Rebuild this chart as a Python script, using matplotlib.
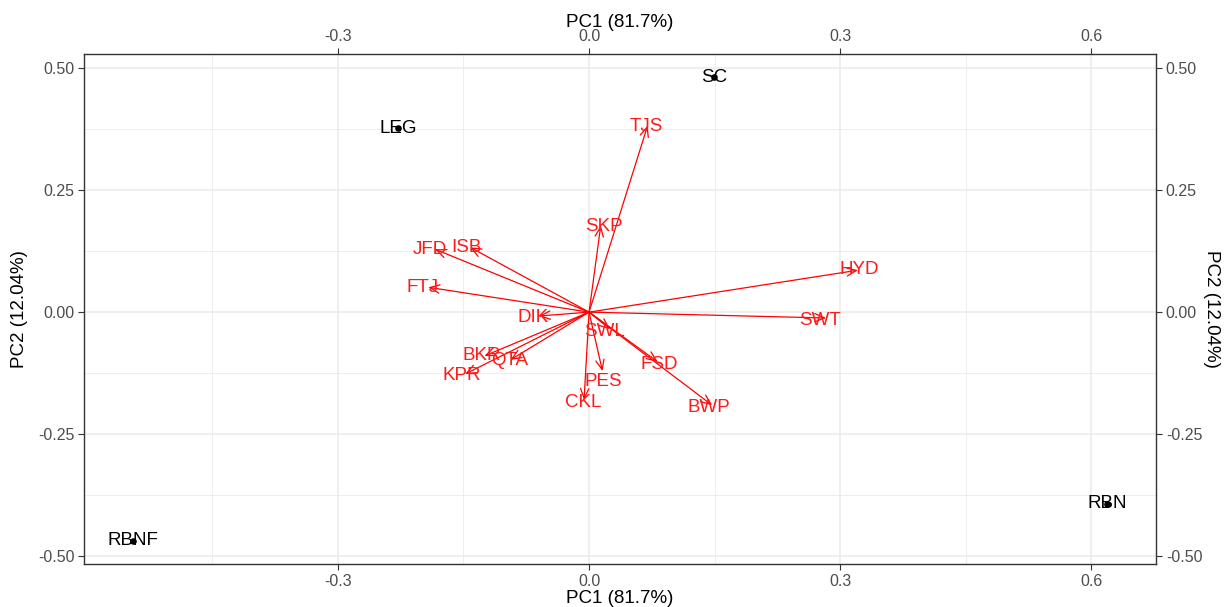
import matplotlib
matplotlib.use("Agg")
import matplotlib.pyplot as plt
from matplotlib.patches import FancyArrowPatch
import numpy as np

plt.rcParams['font.family'] = ['Liberation Sans', 'DejaVu Sans']

# sample scores (PC1, PC2)
samples = ['SC', 'LEG', 'RBNF', 'RBN']
pc1_scores = [0.149, -0.228, -0.545, 0.619]
pc2_scores = [0.482, 0.377, -0.469, -0.393]

# variable loadings (arrow tips)
variables = ['TJS', 'SKP', 'HYD', 'SWT', 'JFD', 'ISB', 'FTJ', 'DIK', 'SWL',
             'FSD', 'BWP', 'PES', 'CKL', 'BKR', 'QTA', 'KPR']
load_pc1 = [0.070, 0.014, 0.321, 0.283, -0.184, -0.142, -0.192, -0.060, 0.025,
            0.082, 0.147, 0.016, -0.006, -0.125, -0.094, -0.148]
load_pc2 = [0.383, 0.178, 0.086, -0.012, 0.129, 0.133, 0.051, -0.008, -0.035,
            -0.102, -0.191, -0.121, -0.180, -0.090, -0.098, -0.127]
# label positions for variables (slightly offset from tips as drawn)
lab_pc1 = [0.068, 0.018, 0.323, 0.276, -0.190, -0.147, -0.199, -0.067, 0.018,
           0.084, 0.143, 0.017, -0.007, -0.128, -0.095, -0.152]
lab_pc2 = [0.381, 0.175, 0.088, -0.018, 0.129, 0.133, 0.051, -0.010, -0.040,
           -0.108, -0.195, -0.142, -0.185, -0.090, -0.100, -0.129]

pc1_label = 'PC1 (81.7%)'
pc2_label = 'PC2 (12.04%)'
xticks = [-0.3, 0.0, 0.3, 0.6]
yticks = [-0.50, -0.25, 0.00, 0.25, 0.50]

fig = plt.figure(figsize=(12.26, 6.07), dpi=100)
ax = fig.add_axes([0.0685, 0.071, 0.8745, 0.840])

# limits with 5% expansion like ggplot
xr = max(pc1_scores) - min(pc1_scores)
yr = max(pc2_scores) - min(pc2_scores)
ax.set_xlim(min(pc1_scores) - 0.05 * xr, max(pc1_scores) + 0.05 * xr)
ax.set_ylim(min(pc2_scores) - 0.05 * yr, max(pc2_scores) + 0.05 * yr)

grid_col = '#EBEBEB'
ax.set_xticks(xticks)
ax.set_yticks(yticks)
ax.set_xticks([-0.45, -0.15, 0.15, 0.45], minor=True)
ax.set_yticks([-0.375, -0.125, 0.125, 0.375], minor=True)
ax.grid(True, which='major', color=grid_col, linewidth=1.1, zorder=0)
ax.grid(True, which='minor', color=grid_col, linewidth=0.6, zorder=0)
ax.set_axisbelow(True)

ax.set_xticklabels(['-0.3', '0.0', '0.3', '0.6'])
ax.set_yticklabels(['-0.50', '-0.25', '0.00', '0.25', '0.50'])
ax.tick_params(which='major', length=4, color='#333333', labelcolor='#4D4D4D',
               labelsize=11.5, pad=3, top=True, right=True, labeltop=True,
               labelright=True)
ax.tick_params(which='minor', length=0)
for sp in ax.spines.values():
    sp.set_color('#333333')
    sp.set_linewidth(1.0)

# axis titles on all four sides
title_kw = dict(transform=ax.transAxes, fontsize=13.5, color='black',
                ha='center', va='center')
ax.text(0.5, -0.067, pc1_label, **title_kw)
ax.text(0.5, 1.061, pc1_label, **title_kw)
ax.text(-0.060, 0.5, pc2_label, rotation=90, **title_kw)
ax.text(1.052, 0.5, pc2_label, rotation=270, **title_kw)

# arrows
for i, name in enumerate(variables):
    arr = FancyArrowPatch((0, 0), (load_pc1[i], load_pc2[i]),
                          arrowstyle='->,head_length=0.7,head_width=0.3',
                          mutation_scale=10, color='red', linewidth=0.9,
                          shrinkA=0, shrinkB=0, zorder=3)
    ax.add_patch(arr)
    ax.text(lab_pc1[i], lab_pc2[i], name, color='#FF1A1A', fontsize=13.5,
            ha='center', va='center', zorder=4)

# sample points
ax.scatter(pc1_scores, pc2_scores, s=14, color='black', zorder=5)
for i, name in enumerate(samples):
    ax.text(pc1_scores[i], pc2_scores[i], name, color='black', fontsize=13.5,
            ha='center', va='center', zorder=6)

fig.savefig('out.png', dpi=100)
